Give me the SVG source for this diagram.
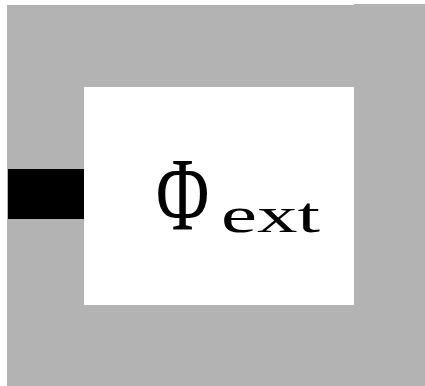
<svg xmlns="http://www.w3.org/2000/svg" width="425" height="386" viewBox="0 0 425 386">
<style>
.loop{fill:#b3b3b3}
.hole{fill:#ffffff}
.junction{fill:#000000}
.lbl{font-family:"Liberation Serif","DejaVu Serif",serif;fill:#000}
</style>
<rect width="425" height="386" fill="#ffffff"/>
<g id="loop">
<rect class="loop" x="7" y="5" width="347" height="381"/>
<rect class="loop" x="354" y="4" width="71" height="382"/>
<rect class="hole" x="84" y="87" width="270" height="218"/>
</g>
<g id="junction">
<rect class="junction" x="8" y="169" width="76" height="50"/>
</g>
<g id="label">
<text class="lbl" transform="translate(156,229) scale(0.7,1)" font-size="104">Φ</text>
<text class="lbl" transform="translate(221,232) scale(1.62,1)" font-size="50">ext</text>
</g>
</svg>
